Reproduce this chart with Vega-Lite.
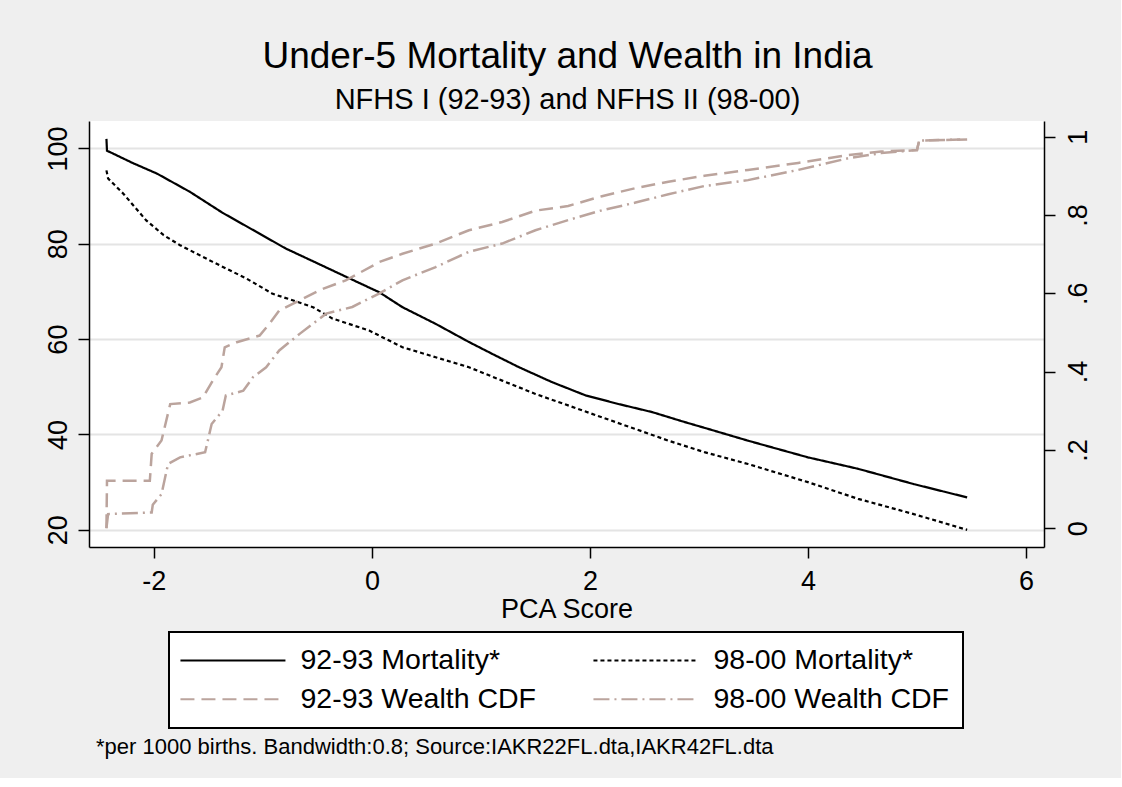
{
  "$schema": "https://vega.github.io/schema/vega-lite/v6.json",
  "background": "#efefef",
  "padding": {"left": 44, "top": 38, "right": 30, "bottom": 20},
  "title": {
    "text": "Under-5 Mortality and Wealth in India",
    "subtitle": "NFHS I (92-93) and NFHS II (98-00)",
    "font": "Liberation Sans",
    "subtitleFont": "Liberation Sans",
    "fontSize": 37,
    "subtitleFontSize": 29,
    "fontWeight": "normal",
    "color": "black",
    "subtitleColor": "black",
    "anchor": "middle",
    "subtitlePadding": 10,
    "offset": 5
  },
  "data": {
    "values": [
      {"s": "92-93 Mortality*", "x": -2.435, "v": 102.0},
      {"s": "92-93 Mortality*", "x": -2.43, "v": 99.5},
      {"s": "92-93 Mortality*", "x": -2.40, "v": 99.2},
      {"s": "92-93 Mortality*", "x": -2.2, "v": 97.0},
      {"s": "92-93 Mortality*", "x": -1.97, "v": 94.7},
      {"s": "92-93 Mortality*", "x": -1.67, "v": 90.9},
      {"s": "92-93 Mortality*", "x": -1.37, "v": 86.5},
      {"s": "92-93 Mortality*", "x": -1.06, "v": 82.5},
      {"s": "92-93 Mortality*", "x": -0.79, "v": 79.0},
      {"s": "92-93 Mortality*", "x": -0.5, "v": 75.9},
      {"s": "92-93 Mortality*", "x": -0.23, "v": 73.0},
      {"s": "92-93 Mortality*", "x": 0.07, "v": 69.8},
      {"s": "92-93 Mortality*", "x": 0.28, "v": 66.7},
      {"s": "92-93 Mortality*", "x": 0.585, "v": 63.2},
      {"s": "92-93 Mortality*", "x": 0.89, "v": 59.4},
      {"s": "92-93 Mortality*", "x": 1.13, "v": 56.6},
      {"s": "92-93 Mortality*", "x": 1.35, "v": 54.1},
      {"s": "92-93 Mortality*", "x": 1.65, "v": 51.0},
      {"s": "92-93 Mortality*", "x": 1.96, "v": 48.2},
      {"s": "92-93 Mortality*", "x": 2.26, "v": 46.4},
      {"s": "92-93 Mortality*", "x": 2.57, "v": 44.7},
      {"s": "92-93 Mortality*", "x": 2.87, "v": 42.6},
      {"s": "92-93 Mortality*", "x": 3.08, "v": 41.2},
      {"s": "92-93 Mortality*", "x": 3.45, "v": 38.7},
      {"s": "92-93 Mortality*", "x": 4.0, "v": 35.2},
      {"s": "92-93 Mortality*", "x": 4.46, "v": 32.8},
      {"s": "92-93 Mortality*", "x": 4.97, "v": 29.6},
      {"s": "92-93 Mortality*", "x": 5.46, "v": 26.8},

      {"s": "98-00 Mortality*", "x": -2.435, "v": 95.4},
      {"s": "98-00 Mortality*", "x": -2.42, "v": 93.7},
      {"s": "98-00 Mortality*", "x": -2.28, "v": 90.5},
      {"s": "98-00 Mortality*", "x": -2.07, "v": 84.9},
      {"s": "98-00 Mortality*", "x": -1.91, "v": 81.8},
      {"s": "98-00 Mortality*", "x": -1.76, "v": 79.7},
      {"s": "98-00 Mortality*", "x": -1.46, "v": 76.2},
      {"s": "98-00 Mortality*", "x": -1.15, "v": 72.7},
      {"s": "98-00 Mortality*", "x": -0.91, "v": 69.5},
      {"s": "98-00 Mortality*", "x": -0.72, "v": 68.1},
      {"s": "98-00 Mortality*", "x": -0.54, "v": 66.7},
      {"s": "98-00 Mortality*", "x": -0.36, "v": 64.3},
      {"s": "98-00 Mortality*", "x": -0.025, "v": 61.8},
      {"s": "98-00 Mortality*", "x": 0.28, "v": 58.3},
      {"s": "98-00 Mortality*", "x": 0.585, "v": 56.2},
      {"s": "98-00 Mortality*", "x": 0.89, "v": 54.1},
      {"s": "98-00 Mortality*", "x": 1.195, "v": 51.3},
      {"s": "98-00 Mortality*", "x": 1.5, "v": 48.5},
      {"s": "98-00 Mortality*", "x": 1.8, "v": 46.1},
      {"s": "98-00 Mortality*", "x": 2.11, "v": 43.6},
      {"s": "98-00 Mortality*", "x": 2.41, "v": 41.2},
      {"s": "98-00 Mortality*", "x": 2.72, "v": 38.7},
      {"s": "98-00 Mortality*", "x": 3.05, "v": 36.3},
      {"s": "98-00 Mortality*", "x": 3.45, "v": 33.8},
      {"s": "98-00 Mortality*", "x": 4.0, "v": 30.0},
      {"s": "98-00 Mortality*", "x": 4.46, "v": 26.5},
      {"s": "98-00 Mortality*", "x": 4.97, "v": 23.3},
      {"s": "98-00 Mortality*", "x": 5.46, "v": 20.0},

      {"s": "92-93 Wealth CDF", "x": -2.435, "v": 0.0},
      {"s": "92-93 Wealth CDF", "x": -2.43, "v": 0.121},
      {"s": "92-93 Wealth CDF", "x": -2.037, "v": 0.121},
      {"s": "92-93 Wealth CDF", "x": -2.02, "v": 0.19},
      {"s": "92-93 Wealth CDF", "x": -1.93, "v": 0.224},
      {"s": "92-93 Wealth CDF", "x": -1.85, "v": 0.317},
      {"s": "92-93 Wealth CDF", "x": -1.67, "v": 0.321},
      {"s": "92-93 Wealth CDF", "x": -1.55, "v": 0.334},
      {"s": "92-93 Wealth CDF", "x": -1.46, "v": 0.377},
      {"s": "92-93 Wealth CDF", "x": -1.38, "v": 0.411},
      {"s": "92-93 Wealth CDF", "x": -1.35, "v": 0.462},
      {"s": "92-93 Wealth CDF", "x": -1.24, "v": 0.475},
      {"s": "92-93 Wealth CDF", "x": -1.03, "v": 0.492},
      {"s": "92-93 Wealth CDF", "x": -0.94, "v": 0.522},
      {"s": "92-93 Wealth CDF", "x": -0.85, "v": 0.556},
      {"s": "92-93 Wealth CDF", "x": -0.69, "v": 0.578},
      {"s": "92-93 Wealth CDF", "x": -0.48, "v": 0.608},
      {"s": "92-93 Wealth CDF", "x": -0.24, "v": 0.633},
      {"s": "92-93 Wealth CDF", "x": 0.07, "v": 0.68},
      {"s": "92-93 Wealth CDF", "x": 0.28, "v": 0.701},
      {"s": "92-93 Wealth CDF", "x": 0.585, "v": 0.727},
      {"s": "92-93 Wealth CDF", "x": 0.89, "v": 0.761},
      {"s": "92-93 Wealth CDF", "x": 1.195, "v": 0.782},
      {"s": "92-93 Wealth CDF", "x": 1.5, "v": 0.811},
      {"s": "92-93 Wealth CDF", "x": 1.8, "v": 0.823},
      {"s": "92-93 Wealth CDF", "x": 2.11, "v": 0.848},
      {"s": "92-93 Wealth CDF", "x": 2.41, "v": 0.868},
      {"s": "92-93 Wealth CDF", "x": 2.72, "v": 0.885},
      {"s": "92-93 Wealth CDF", "x": 3.05, "v": 0.9},
      {"s": "92-93 Wealth CDF", "x": 3.45, "v": 0.915},
      {"s": "92-93 Wealth CDF", "x": 3.91, "v": 0.933},
      {"s": "92-93 Wealth CDF", "x": 4.37, "v": 0.953},
      {"s": "92-93 Wealth CDF", "x": 4.67, "v": 0.962},
      {"s": "92-93 Wealth CDF", "x": 5.0, "v": 0.966},
      {"s": "92-93 Wealth CDF", "x": 5.02, "v": 0.99},
      {"s": "92-93 Wealth CDF", "x": 5.46, "v": 0.993},

      {"s": "98-00 Wealth CDF", "x": -2.435, "v": 0.0},
      {"s": "98-00 Wealth CDF", "x": -2.42, "v": 0.036},
      {"s": "98-00 Wealth CDF", "x": -2.02, "v": 0.04},
      {"s": "98-00 Wealth CDF", "x": -2.01, "v": 0.06},
      {"s": "98-00 Wealth CDF", "x": -1.93, "v": 0.087},
      {"s": "98-00 Wealth CDF", "x": -1.87, "v": 0.164},
      {"s": "98-00 Wealth CDF", "x": -1.76, "v": 0.181},
      {"s": "98-00 Wealth CDF", "x": -1.53, "v": 0.194},
      {"s": "98-00 Wealth CDF", "x": -1.47, "v": 0.266},
      {"s": "98-00 Wealth CDF", "x": -1.37, "v": 0.3},
      {"s": "98-00 Wealth CDF", "x": -1.34, "v": 0.339},
      {"s": "98-00 Wealth CDF", "x": -1.18, "v": 0.351},
      {"s": "98-00 Wealth CDF", "x": -1.09, "v": 0.386},
      {"s": "98-00 Wealth CDF", "x": -0.97, "v": 0.411},
      {"s": "98-00 Wealth CDF", "x": -0.85, "v": 0.454},
      {"s": "98-00 Wealth CDF", "x": -0.66, "v": 0.497},
      {"s": "98-00 Wealth CDF", "x": -0.42, "v": 0.548},
      {"s": "98-00 Wealth CDF", "x": -0.18, "v": 0.565},
      {"s": "98-00 Wealth CDF", "x": 0.07, "v": 0.6},
      {"s": "98-00 Wealth CDF", "x": 0.28, "v": 0.633},
      {"s": "98-00 Wealth CDF", "x": 0.585, "v": 0.667},
      {"s": "98-00 Wealth CDF", "x": 0.89, "v": 0.706},
      {"s": "98-00 Wealth CDF", "x": 1.195, "v": 0.727},
      {"s": "98-00 Wealth CDF", "x": 1.5, "v": 0.761},
      {"s": "98-00 Wealth CDF", "x": 1.8, "v": 0.787},
      {"s": "98-00 Wealth CDF", "x": 2.11, "v": 0.812},
      {"s": "98-00 Wealth CDF", "x": 2.41, "v": 0.831},
      {"s": "98-00 Wealth CDF", "x": 2.72, "v": 0.853},
      {"s": "98-00 Wealth CDF", "x": 3.05, "v": 0.874},
      {"s": "98-00 Wealth CDF", "x": 3.45, "v": 0.889},
      {"s": "98-00 Wealth CDF", "x": 3.91, "v": 0.915},
      {"s": "98-00 Wealth CDF", "x": 4.37, "v": 0.945},
      {"s": "98-00 Wealth CDF", "x": 4.67, "v": 0.958},
      {"s": "98-00 Wealth CDF", "x": 5.0, "v": 0.966},
      {"s": "98-00 Wealth CDF", "x": 5.02, "v": 0.99},
      {"s": "98-00 Wealth CDF", "x": 5.46, "v": 0.993}
    ]
  },
  "vconcat": [
    {
      "width": 955,
      "height": 426,
      "title": {
        "text": "*per 1000 births. Bandwidth:0.8; Source:IAKR22FL.dta,IAKR42FL.dta",
        "orient": "bottom",
        "anchor": "start",
        "frame": "group",
        "font": "Liberation Sans",
        "fontSize": 22,
        "fontWeight": "normal",
        "color": "black",
        "dx": 7,
        "offset": 115
      },
      "layer": [
        {
          "transform": [{"filter": "indexof(datum.s, 'Mortality') >= 0"}],
          "mark": {"type": "line", "strokeWidth": 2.2, "strokeCap": "butt", "interpolate": "linear"},
          "encoding": {
            "x": {
              "field": "x", "type": "quantitative",
              "scale": {"domain": [-2.595, 6.165], "nice": false, "zero": false},
              "axis": {"values": [-2, 0, 2, 4, 6], "labelExpr": "'' + datum.value", "title": "PCA Score", "labelPadding": 10, "titlePadding": 2, "grid": false}
            },
            "y": {
              "field": "v", "type": "quantitative",
              "scale": {"domain": [16.4, 105.75], "nice": false, "zero": false},
              "axis": {"orient": "left", "values": [20, 40, 60, 80, 100], "title": null, "grid": true,
                       "gridColor": "#e4e4e4", "gridWidth": 2,
                       "labelAngle": -90, "labelAlign": "center", "labelBaseline": "alphabetic", "labelPadding": 12}
            },
            "color": {
              "field": "s", "type": "nominal",
              "scale": {"domain": ["92-93 Mortality*", "98-00 Mortality*", "92-93 Wealth CDF", "98-00 Wealth CDF"],
                        "range": ["#000000", "#000000", "#bba49d", "#bba49d"]},
              "legend": {"title": null}
            },
            "strokeDash": {
              "field": "s", "type": "nominal",
              "scale": {"domain": ["92-93 Mortality*", "98-00 Mortality*", "92-93 Wealth CDF", "98-00 Wealth CDF"],
                        "range": [[1, 0], [4, 3], [14, 7], [16, 5, 2, 5]]},
              "legend": {"title": null}
            }
          }
        },
        {
          "transform": [{"filter": "indexof(datum.s, 'CDF') >= 0"}],
          "mark": {"type": "line", "strokeWidth": 2.5, "strokeCap": "butt", "interpolate": "linear"},
          "encoding": {
            "x": {"field": "x", "type": "quantitative"},
            "y": {
              "field": "v", "type": "quantitative",
              "scale": {"domain": [-0.048, 1.04], "nice": false, "zero": false},
              "axis": {"orient": "right", "values": [0, 0.2, 0.4, 0.6, 0.8, 1], "title": null, "grid": false,
                       "labelExpr": "datum.value == 0 ? '0' : datum.value == 1 ? '1' : replace(format(datum.value, '.1f'), '0.', '.')",
                       "labelAngle": -90, "labelAlign": "center", "labelBaseline": "top", "labelPadding": 10}
            },
            "color": {
              "field": "s", "type": "nominal",
              "scale": {"domain": ["92-93 Mortality*", "98-00 Mortality*", "92-93 Wealth CDF", "98-00 Wealth CDF"],
                        "range": ["#000000", "#000000", "#bba49d", "#bba49d"]},
              "legend": {"title": null}
            },
            "strokeDash": {
              "field": "s", "type": "nominal",
              "scale": {"domain": ["92-93 Mortality*", "98-00 Mortality*", "92-93 Wealth CDF", "98-00 Wealth CDF"],
                        "range": [[1, 0], [4, 3], [14, 7], [16, 5, 2, 5]]},
              "legend": {"title": null}
            }
          }
        }
      ],
      "resolve": {"scale": {"y": "independent"}}
    }
  ],
  "config": {
    "font": "Liberation Sans",
    "view": {"stroke": null, "fill": "white"},
    "axis": {
      "domainColor": "black", "domainWidth": 1.5,
      "tickColor": "black", "tickWidth": 1.5, "tickSize": 11,
      "labelFont": "Liberation Sans", "labelFontSize": 27, "labelColor": "black",
      "titleFont": "Liberation Sans", "titleFontSize": 27, "titleFontWeight": "normal", "titleColor": "black"
    },
    "legend": {
      "orient": "none",
      "legendX": 80,
      "legendY": 511,
      "direction": "horizontal",
      "columns": 2,
      "columnPadding": 53,
      "rowPadding": 10,
      "padding": 14,
      "strokeColor": "black",
      "strokeWidth": 2,
      "fillColor": "white",
      "symbolType": "M-1.6,0H8.4",
      "symbolSize": 441,
      "symbolStrokeWidth": 2,
      "labelFont": "Liberation Sans",
      "labelFontSize": 28.5,
      "labelColor": "black",
      "labelLimit": 400,
      "labelOffset": 89
    }
  }
}
